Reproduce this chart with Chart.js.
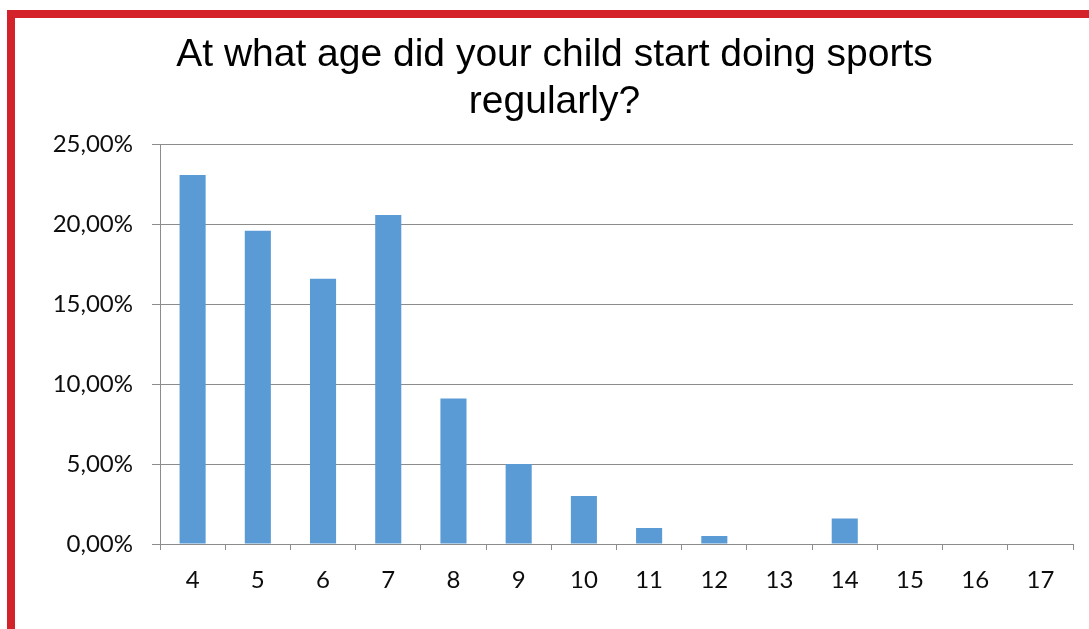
<!DOCTYPE html>
<html>
<head>
<meta charset="utf-8">
<script src="https://cdn.jsdelivr.net/npm/chart.js@4"></script>
<style>
  html, body { margin: 0; padding: 0; background: #fff; }
  #wrap { position: relative; width: 1089px; height: 629px; overflow: hidden; }
  #frame {
    position: absolute; left: 7px; top: 10px; right: -10px; bottom: -10px;
    border-left: 8px solid #d3222a; border-top: 8px solid #d3222a;
    pointer-events: none;
  }
</style>
</head>
<body>
<div id="wrap">
  <canvas id="chart" width="1089" height="629"></canvas>
  <div id="frame"></div>
</div>
<script>
const ages = ['4', '5', '6', '7', '8', '9', '10', '11', '12', '13', '14', '15', '16', '17'];
const shares = [23.1, 19.6, 16.6, 20.6, 9.1, 5.0, 3.0, 1.0, 0.5, 0, 1.6, 0, 0, 0];
const titleLines = ['At what age did your child start doing sports', 'regularly?'];

const gridGray = '#8c8c8c';
const tickFont = { family: 'Lato', size: 24 };

new Chart(document.getElementById('chart'), {
  type: 'bar',
  data: {
    labels: ages,
    datasets: [{
      data: shares,
      backgroundColor: '#5b9bd5',
      barPercentage: 0.4,
      categoryPercentage: 1
    }]
  },
  options: {
    responsive: false,
    animation: false,
    layout: { padding: { left: 36, right: 16, top: 0, bottom: 0 } },
    plugins: {
      legend: { display: false },
      tooltip: { enabled: false },
      title: {
        display: true,
        text: titleLines,
        color: '#000',
        font: { family: 'Liberation Sans', size: 39, weight: 'normal', lineHeight: 1.2 },
        padding: { top: 32, bottom: 19 }
      }
    },
    scales: {
      x: {
        grid: { drawOnChartArea: false, drawTicks: true, tickLength: 6, color: gridGray },
        border: { color: gridGray },
        ticks: { color: '#0d0d0d', font: tickFont, padding: 16, maxRotation: 0 },
        afterFit: s => { s.height = 85; }
      },
      y: {
        min: 0,
        max: 25,
        grid: { color: gridGray, tickLength: 8 },
        border: { color: gridGray },
        ticks: {
          stepSize: 5,
          color: '#0d0d0d',
          font: tickFont,
          padding: 19,
          callback: v => v.toFixed(2).replace('.', ',') + '%'
        },
        afterFit: s => { s.width = 124; }
      }
    }
  }
});
</script>
</body>
</html>
